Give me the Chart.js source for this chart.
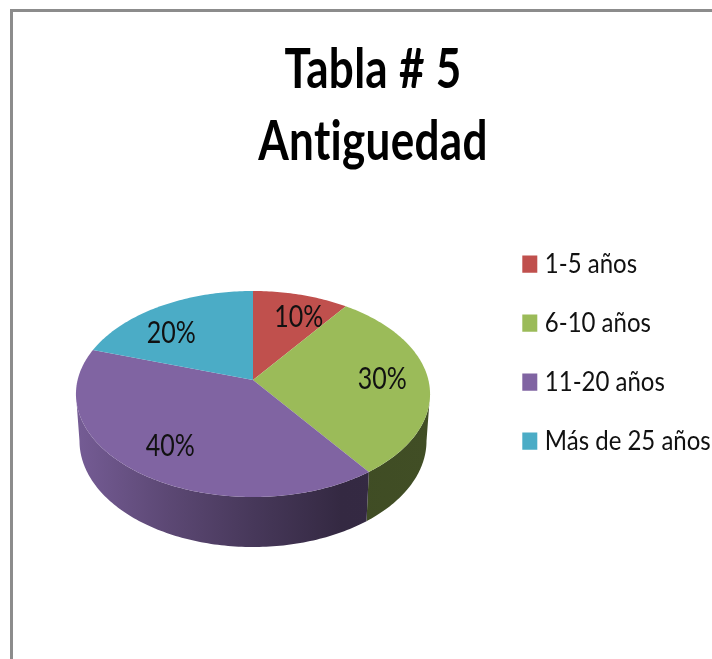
<!DOCTYPE html>
<html><head><meta charset="utf-8">
<style>html,body{margin:0;padding:0;background:#fff;overflow:hidden}canvas{display:block}</style>
<script src="https://cdn.jsdelivr.net/npm/chart.js@4/dist/chart.umd.min.js"></script>
</head><body><canvas id="c" width="712" height="659"></canvas>
<script>
const titleLines = ['Tabla # 5', 'Antiguedad'];
const categories = ['1-5 años', '6-10 años', '11-20 años', 'Más de 25 años'];
const seriesValues = [10, 30, 40, 20];
const sliceColors = ['#c0504d', '#9bbb59', '#8064a2', '#4bacc6'];

// 3-D look: perspective projection of the library's arc angles
const VIEW = {cx:253, cy:380, R:175.4, H:101.1, k:0.136, depthY:46.5, shrinkX:0.98, stretchY:1.03};
const WALL_FROM = 97.8, WALL_TO = 262.2;
const SHADE = [[0,0.92],[0.26,0.72],[0.5,0.56],[0.75,0.41],[1,0.42]];
const LABEL_R = 0.72;
const LABEL_NUDGE = [[10,1],[3,-1],[-2,2],[-13,8]];

function top3d(deg, r=1){
  const t = deg*Math.PI/180, u = r*Math.sin(t), w = r*Math.cos(t), s = 1/(1+VIEW.k*w);
  return [VIEW.cx+VIEW.R*u*s, VIEW.cy-VIEW.H*w*s];
}
function low3d(deg){
  const p = top3d(deg);
  return [VIEW.cx+VIEW.shrinkX*(p[0]-VIEW.cx), VIEW.cy+VIEW.depthY+VIEW.stretchY*(p[1]-VIEW.cy)];
}
function shade(hex,f){
  const n = parseInt(hex.slice(1),16);
  return `rgb(${(n>>16&255)*f|0},${(n>>8&255)*f|0},${(n&255)*f|0})`;
}
const deg = a => (a+Math.PI/2)*180/Math.PI;

const pie3d = {
  id:'pie3d',
  beforeDraw(chart){
    const c = chart.ctx;
    c.save();
    c.fillStyle='#fff'; c.fillRect(0,0,chart.width,chart.height);
    c.fillStyle='#8c8c8c';
    c.fillRect(10,9,chart.width-10,3);
    c.fillRect(10,9,3,chart.height-9);
    c.restore();
  },
  beforeDatasetDraw(chart,args){
    const c = chart.ctx, arcs = args.meta.data;
    c.save();
    // side wall
    arcs.forEach(a=>{
      const p = a.getProps(['startAngle','endAngle'],true);
      const s = Math.max(deg(p.startAngle),WALL_FROM), e = Math.min(deg(p.endAngle),WALL_TO);
      if(e<=s) return;
      const col = a.options.backgroundColor;
      const g = c.createLinearGradient(76,0,430,0);
      SHADE.forEach(st=>g.addColorStop(st[0],shade(col,st[1])));
      c.beginPath();
      for(let d=s;d<e;d+=1){const q=top3d(d);c.lineTo(q[0],q[1]);}
      let q=top3d(e);c.lineTo(q[0],q[1]);
      for(let d=e;d>s;d-=1){q=low3d(d);c.lineTo(q[0],q[1]);}
      q=low3d(s);c.lineTo(q[0],q[1]);
      c.closePath();
      c.fillStyle=g;c.fill();
    });
    // top face
    arcs.forEach(a=>{
      const p = a.getProps(['startAngle','endAngle'],true);
      const s = deg(p.startAngle), e = deg(p.endAngle);
      c.beginPath();
      c.moveTo(VIEW.cx,VIEW.cy);
      for(let d=s;d<e;d+=1){const q=top3d(d);c.lineTo(q[0],q[1]);}
      const q=top3d(e);c.lineTo(q[0],q[1]);
      c.closePath();
      c.fillStyle=a.options.backgroundColor;c.fill();
    });
    // percentage labels
    const total = seriesValues.reduce((x,y)=>x+y,0);
    c.fillStyle='#111';c.font='25px Lato';c.textAlign='center';c.textBaseline='middle';
    arcs.forEach((a,i)=>{
      const p = a.getProps(['startAngle','endAngle'],true);
      const q = top3d((deg(p.startAngle)+deg(p.endAngle))/2,LABEL_R);
      const txt = Math.round(seriesValues[i]/total*100)+'%';
      c.save();
      c.translate(q[0]+LABEL_NUDGE[i][0],q[1]+LABEL_NUDGE[i][1]);
      c.scale(1,1.2);
      c.fillText(txt,0,0);
      c.restore();
    });
    c.restore();
    return false;
  },
  afterLayout(chart){
    const l = chart.legend;
    l.left = 499.5; l.right = 900; l.top = 219; l.bottom = 900; l.width=400; l.height=681;
    if(!l._wrapped){
      l._wrapped = true;
      const od = l.draw;
      l.draw = function(){
        const c=this.ctx;c.save();c.translate(0,219);c.scale(1,1.15);c.translate(0,-219);
        od.call(this);c.restore();
      };
      const t = chart.titleBlock, ot = t.draw;
      t.draw = function(){
        const c=this.ctx;c.save();c.translate(17,0);c.scale(1,1.25);
        c.letterSpacing='0.3px';
        ot.call(this);c.restore();
      };
    }
  }
};

new Chart(document.getElementById('c'),{
  type:'pie',
  data:{labels:categories,datasets:[{data:seriesValues,backgroundColor:sliceColors,borderWidth:0}]},
  plugins:[pie3d],
  options:{
    responsive:false,animation:false,
    layout:{padding:0},
    plugins:{
      tooltip:{enabled:false},
      title:{display:true,text:titleLines,color:'#000',
        font:{family:'Lato',size:44,weight:'bold',lineHeight:1.31},padding:{top:27,bottom:10}},
      legend:{display:true,position:'right',align:'start',
        labels:{color:'#111',font:{family:'Lato',size:24},padding:27.3,
          usePointStyle:true,pointStyle:'rect',boxWidth:6,boxHeight:15}}
    }
  }
});
</script></body></html>
